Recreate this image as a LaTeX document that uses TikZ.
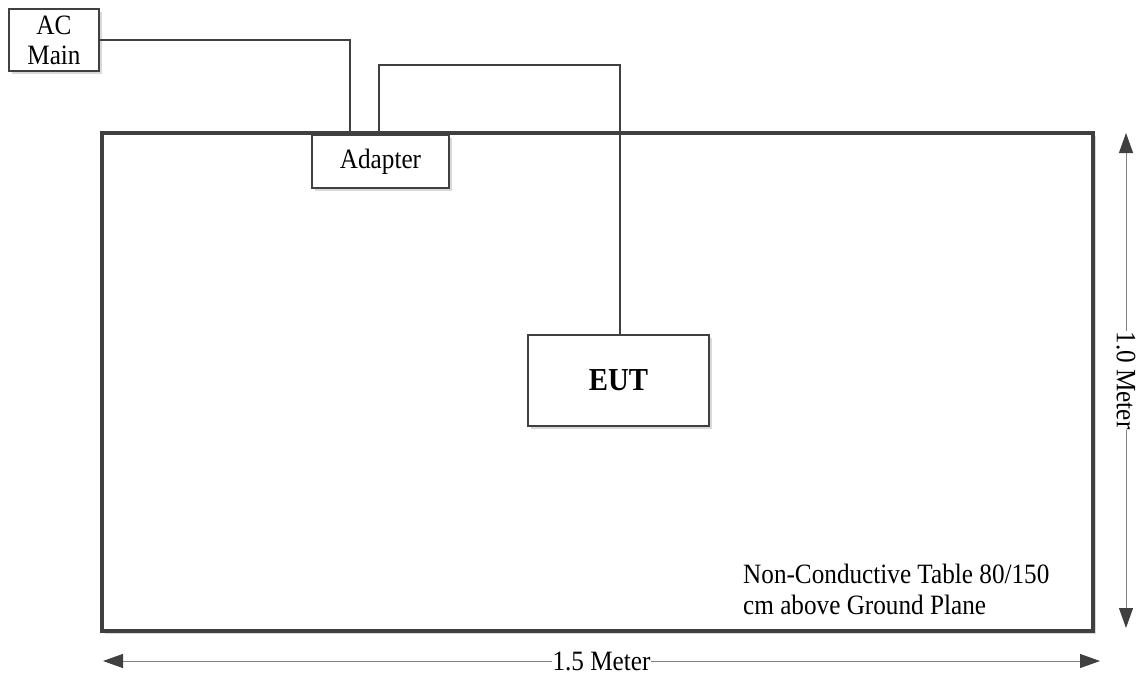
\documentclass[tikz,border=0pt]{standalone}
\usepackage{fontspec}
\setmainfont{Liberation Serif}[FakeStretch=0.9]
\usetikzlibrary{arrows.meta,shadows}
\definecolor{ln}{HTML}{404040}
\definecolor{dimc}{HTML}{808080}
\definecolor{shd}{HTML}{D9D9D9}
\begin{document}
\begin{tikzpicture}[x=1pt,y=-1pt,
  box/.style={draw=ln, line width=2pt, fill=white, inner sep=0pt, align=center,
    font=\fontsize{28}{30}\selectfont,
    drop shadow={shadow xshift=3pt, shadow yshift=-3pt, fill=shd, opacity=1}},
  txt/.style={font=\fontsize{28}{30}\selectfont, inner sep=0pt},
  wire/.style={draw=ln, line width=1.5pt},
  dimarrow/.style={draw=dimc, line width=1pt,
    {Triangle[length=20pt,width=14pt,color=ln]}-{Triangle[length=20pt,width=14pt,color=ln]}},
]
\useasboundingbox (0,0) rectangle (1140,677);
% table
\node[box, line width=3.5pt, minimum width=991pt, minimum height=498pt] (table) at (597.5,382) {};
% boxes
\node[box, minimum width=90pt, minimum height=62pt] (ac) at (54,40) {AC\\Main};
\node[box, minimum width=137pt, minimum height=53pt] (adapter) at (380.5,161.5) {Adapter};
\node[box, minimum width=181pt, minimum height=91pt, font=\fontsize{32}{34}\selectfont\bfseries] (eut) at (618.5,380.5) {EUT};
% wire end points
\coordinate (a1) at (350,134);
\coordinate (a2) at (379,134);
\coordinate (e1) at (620,335);
\draw[wire] (ac.east) -| (a1);
\draw[wire] (a2) -- (379,65) -| (e1);
% note
\node[txt, anchor=base west] (note1) at (743,583) {Non-Conductive Table 80/150};
\node[txt, anchor=base west] (note2) at (743,614) {cm above Ground Plane};
% dimensions
\coordinate (v1) at (1126,133);
\coordinate (v2) at (1126,628);
\draw[dimarrow] (v1) -- node[txt, fill=white, rotate=-90, inner xsep=1pt, inner ysep=2pt] (vlab) {1.0 Meter} (v2);
\coordinate (h1) at (103,661);
\coordinate (h2) at (1100,661);
\draw[dimarrow] (h1) -- node[txt, fill=white, inner xsep=1pt, inner ysep=2pt] (hlab) {1.5 Meter} (h2);
\end{tikzpicture}
\end{document}
